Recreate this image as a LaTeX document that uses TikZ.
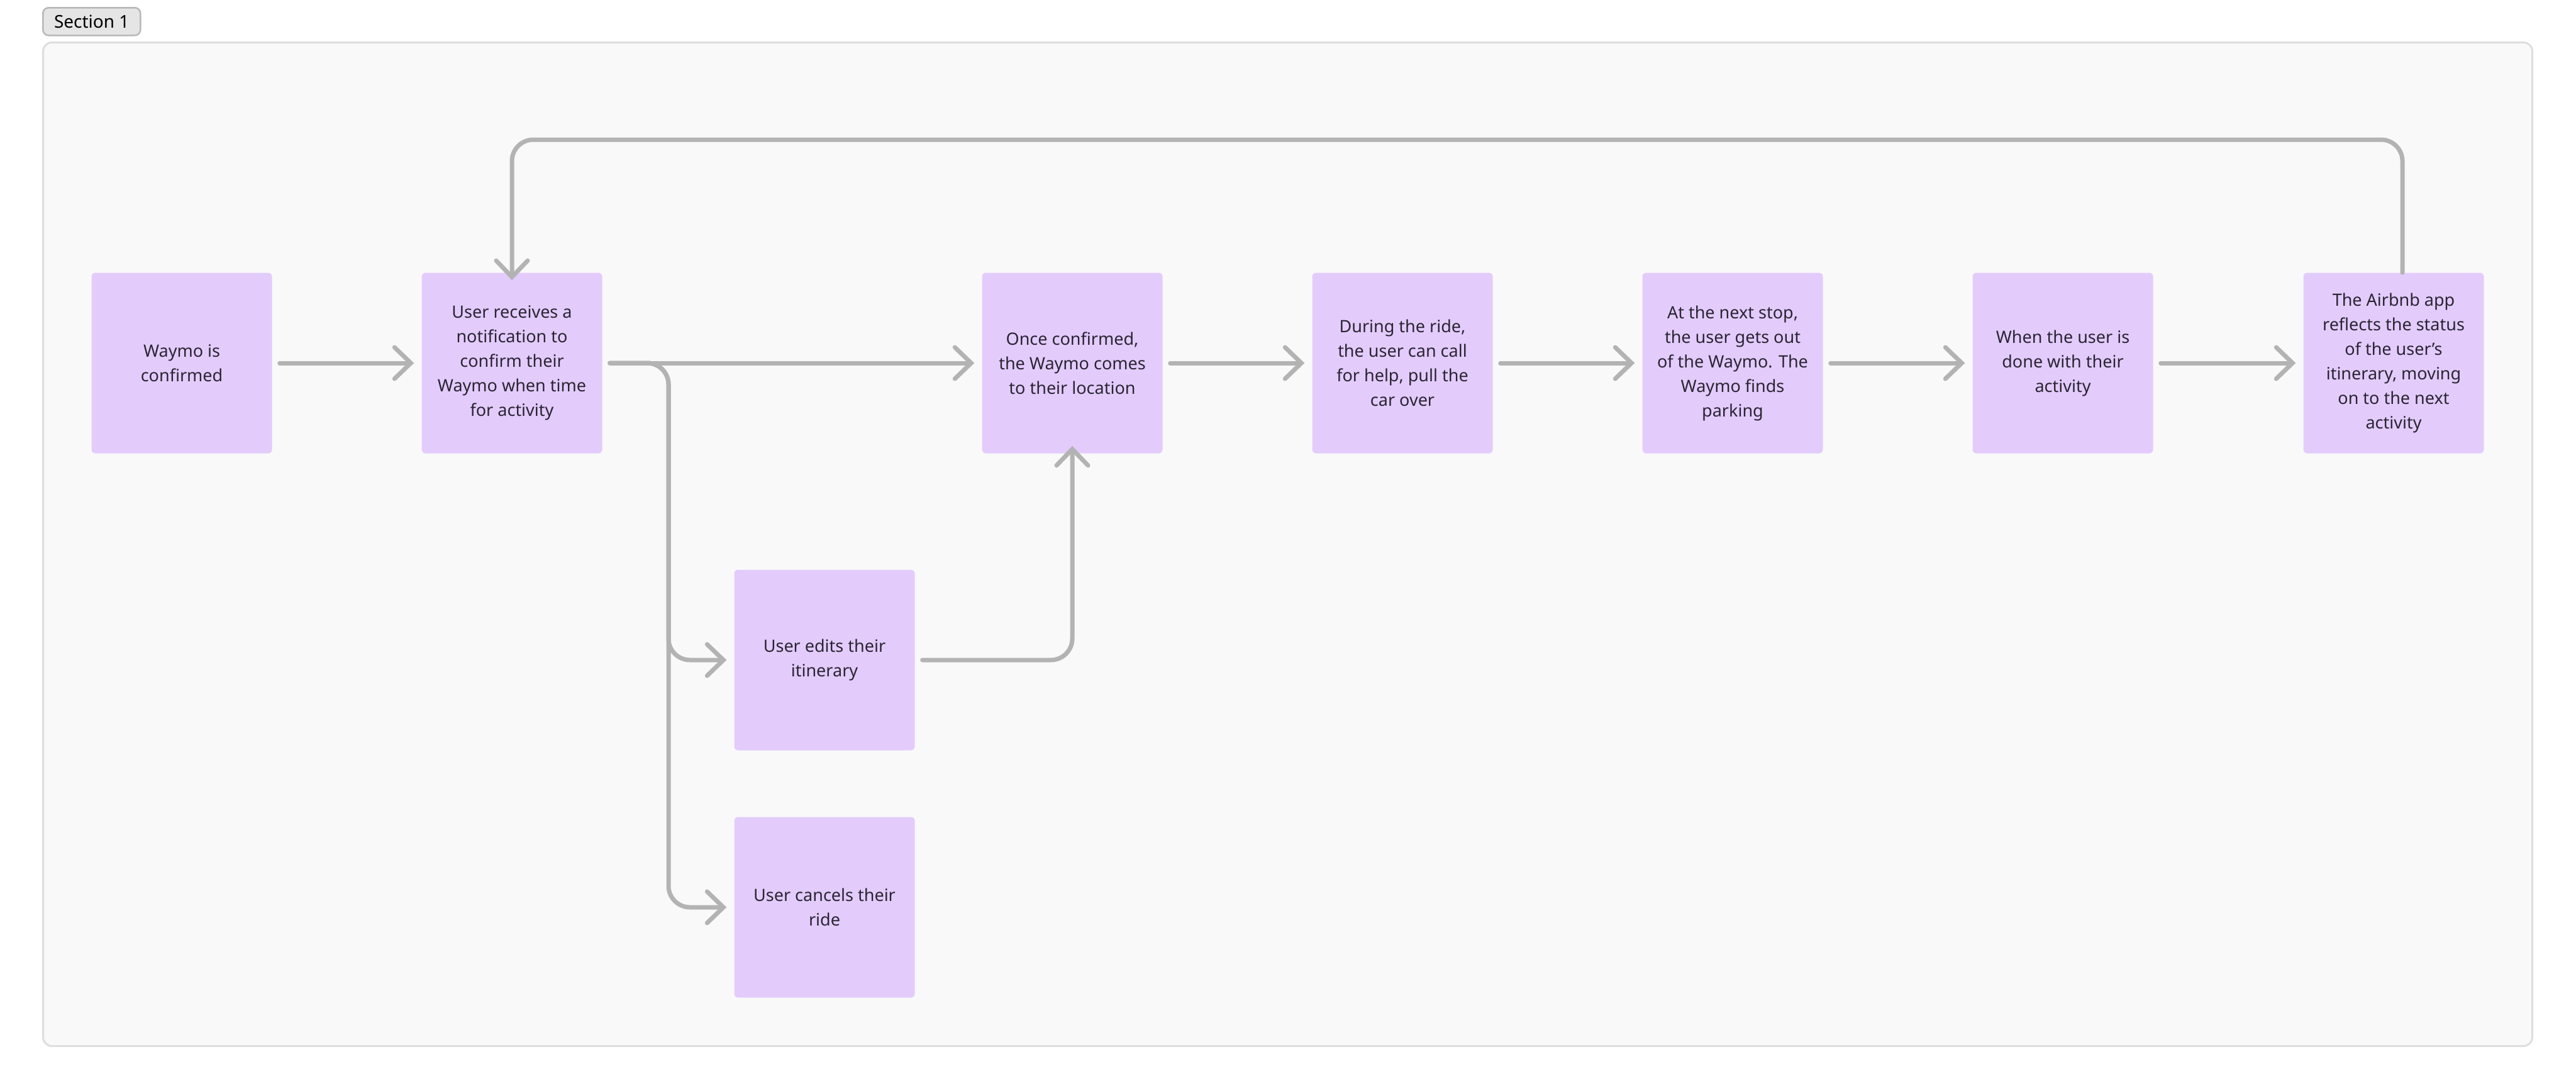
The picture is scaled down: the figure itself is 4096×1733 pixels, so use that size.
\documentclass[tikz,border=0pt]{standalone}
\usepackage{fontspec}
\setmainfont{Noto Sans}
\usetikzlibrary{arrows.meta}
\definecolor{boxc}{HTML}{E3CCFC}
\definecolor{linec}{HTML}{B3B3B3}
\definecolor{framef}{HTML}{F9F9F9}
\definecolor{framed}{HTML}{DEDEDE}
\definecolor{txt}{HTML}{2A2433}
\begin{document}
\begin{tikzpicture}[x=1pt,y=-1pt,
  box/.style={fill=boxc,draw=none,rounded corners=6pt,minimum width=287pt,minimum height=287pt,inner sep=0pt,
    align=center,font=\fontsize{27}{39}\selectfont,text=txt},
  conn/.style={draw=linec,line width=7pt,line cap=round,rounded corners=34pt,
    -{Straight Barb[length=26pt,width=50pt,line width=7pt,line cap=round]}}]
\useasboundingbox (0,0) rectangle (4096,1733);
\node[fill=framef,draw=framed,line width=3pt,rounded corners=14pt,minimum width=3958pt,minimum height=1595pt,anchor=north west,inner sep=0pt] (frame) at (67,66) {};
\node[fill=black!10,draw=black!28,line width=2.5pt,rounded corners=9pt,minimum width=155pt,minimum height=44pt,anchor=north west,inner sep=0pt,font=\fontsize{28}{30}\selectfont] (sec) at (67,11) {Section 1};

\node[box] (a) at (289,577) {Waymo is\\confirmed};
\node[box] (b) at (814,577) {User receives a\\notification to\\confirm their\\Waymo when time\\for activity};
\node[box] (c) at (1705,577) {Once confirmed,\\the Waymo comes\\to their location};
\node[box] (d) at (2230,577) {During the ride,\\the user can call\\for help, pull the\\car over};
\node[box] (e) at (2755,577) {At the next stop,\\the user gets out\\of the Waymo. The\\Waymo finds\\parking};
\node[box] (f) at (3280,577) {When the user is\\done with their\\activity};
\node[box] (g) at (3806,577) {The Airbnb app\\reflects the status\\of the user's\\itinerary, moving\\on to the next\\activity};
\node[box] (h) at (1311,1049) {User edits their\\itinerary};
\node[box] (i) at (1311,1442) {User cancels their\\ride};

\coordinate (lt) at (814,222);
\coordinate (rt) at (3820,222);
\coordinate (br) at (1063,577);

\draw[conn] ([xshift=12pt]a.east) -- ([xshift=-12pt]b.west);
\draw[conn] ([xshift=12pt]b.east) -- ([xshift=-12pt]c.west);
\draw[conn] ([xshift=12pt]c.east) -- ([xshift=-12pt]d.west);
\draw[conn] ([xshift=12pt]d.east) -- ([xshift=-12pt]e.west);
\draw[conn] ([xshift=12pt]e.east) -- ([xshift=-12pt]f.west);
\draw[conn] ([xshift=12pt]f.east) -- ([xshift=-12pt]g.west);
\draw[conn] ([xshift=14pt]g.north) -- (rt) -- (lt) -- ([yshift=-12pt]b.north);
\draw[conn] ([xshift=12pt]b.east) -- (br) -- (br |- h.west) -- ([xshift=-12pt]h.west);
\draw[conn] ([xshift=12pt]b.east) -- (br) -- (br |- i.west) -- ([xshift=-12pt]i.west);
\draw[conn] ([xshift=12pt]h.east) -- (h.east -| c.south) -- ([yshift=12pt]c.south);
\end{tikzpicture}
\end{document}
